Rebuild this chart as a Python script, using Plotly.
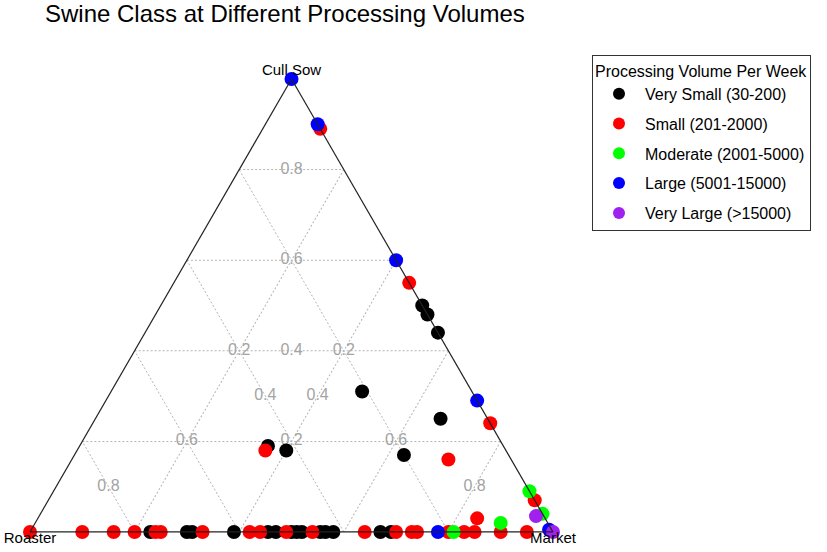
import plotly.graph_objects as go

# ---- data: (Cull Sow, Roaster, Market) shares per plant ----
series_names = [
    "Very Small (30-200)",
    "Small (201-2000)",
    "Moderate (2001-5000)",
    "Large (5001-15000)",
    "Very Large (>15000)",
]
series_colors = ["#000000", "#FF0000", "#00FF00", "#0000FF", "#A020F0"]

very_small_cull = [0.50, 0.48, 0.44, 0.31, 0.25, 0.17, 0.19, 0.18,
                   0, 0, 0, 0, 0, 0, 0, 0, 0, 0, 0, 0, 0, 0]
very_small_roaster = [0.00, 0.00, 0.00, 0.21, 0.09, 0.20, 0.45, 0.42,
                      0.77, 0.70, 0.69, 0.61, 0.545, 0.53, 0.50, 0.49, 0.48,
                      0.445, 0.435, 0.42, 0.33, 0.31]
very_small_market = [0.50, 0.52, 0.56, 0.48, 0.66, 0.63, 0.36, 0.40,
                     0.23, 0.30, 0.31, 0.39, 0.455, 0.47, 0.50, 0.51, 0.52,
                     0.555, 0.565, 0.58, 0.67, 0.69]

small_cull = [0.89, 0.55, 0.24, 0.07, 0.16, 0.18, 0.03,
              0, 0, 0, 0, 0, 0, 0, 0, 0, 0, 0, 0, 0, 0, 0, 0, 0, 0, 0, 0]
small_roaster = [0.00, 0.00, 0.00, 0.00, 0.12, 0.46, 0.13,
                 1.00, 0.90, 0.84, 0.80, 0.76, 0.75, 0.67, 0.58, 0.56, 0.51,
                 0.46, 0.36, 0.30, 0.27, 0.26, 0.20, 0.17, 0.15, 0.10, 0.05]
small_market = [0.11, 0.45, 0.76, 0.93, 0.72, 0.36, 0.84,
                0.00, 0.10, 0.16, 0.20, 0.24, 0.25, 0.33, 0.42, 0.44, 0.49,
                0.54, 0.64, 0.70, 0.73, 0.74, 0.80, 0.83, 0.85, 0.90, 0.95]

moderate_cull = [0.09, 0.04, 0.02, 0.00]
moderate_roaster = [0.00, 0.00, 0.09, 0.19]
moderate_market = [0.91, 0.96, 0.89, 0.81]

large_cull = [1.00, 0.90, 0.60, 0.29, 0.00, 0.005]
large_roaster = [0.00, 0.00, 0.00, 0.00, 0.22, 0.005]
large_market = [0.00, 0.10, 0.40, 0.71, 0.78, 0.99]

very_large_cull = [0.035, 0.00]
very_large_roaster = [0.015, 0.00]
very_large_market = [0.95, 1.00]

series_cull = [very_small_cull, small_cull, moderate_cull, large_cull, very_large_cull]
series_roaster = [very_small_roaster, small_roaster, moderate_roaster, large_roaster, very_large_roaster]
series_market = [very_small_market, small_market, moderate_market, large_market, very_large_market]

axis_names = ["Cull Sow", "Roaster", "Market"]
grid_ticks = [0.2, 0.4, 0.6, 0.8]
grid_tick_labels = ["0.2", "0.4", "0.6", "0.8"]

FONT = "Liberation Sans, Arial, sans-serif"

fig = go.Figure()

# grid labels placed at the middle of each grid line (inside the triangle)
lab_a, lab_b, lab_c, lab_t = [], [], [], []
for v, t in zip(grid_ticks, grid_tick_labels):
    r = (1 - v) / 2
    lab_a += [v, r, r]
    lab_b += [r, v, r]
    lab_c += [r, r, v]
    lab_t += [t, t, t]
fig.add_trace(go.Scatterternary(
    a=lab_a, b=lab_b, c=lab_c, text=lab_t, mode="text",
    textfont=dict(color="#a4a4a4", size=16, family=FONT),
    showlegend=False, hoverinfo="skip", cliponaxis=False,
))

for i, name in enumerate(series_names):
    fig.add_trace(go.Scatterternary(
        a=series_cull[i], b=series_roaster[i], c=series_market[i],
        mode="markers", name=name, legendgroup=name,
        marker=dict(color=series_colors[i], size=14, line=dict(width=0)),
        cliponaxis=False,
    ))

# vertex labels, centred on each corner
fig.add_trace(go.Scatterternary(
    a=[1, 0], b=[0, 0], c=[0, 1], text=[axis_names[0], ""], mode="text",
    textposition="top center", textfont=dict(size=15, color="black", family=FONT),
    showlegend=False, hoverinfo="skip", cliponaxis=False,
))
fig.add_trace(go.Scatterternary(
    a=[0, 0], b=[1, 0], c=[0, 1], text=[axis_names[1], axis_names[2]], mode="text",
    textposition="bottom center", textfont=dict(size=15, color="black", family=FONT),
    showlegend=False, hoverinfo="skip", cliponaxis=False,
))

axis_common = dict(
    min=0, tick0=0, dtick=0.2, showticklabels=False, ticks="",
    showgrid=True, gridcolor="#b4b4b4", griddash="2px,2px", gridwidth=1,
    linecolor="#222222", linewidth=1.2, title=dict(text=""),
)

fig.update_layout(
    width=827, height=552,
    margin=dict(l=0, r=0, t=0, b=0),
    paper_bgcolor="white",
    font=dict(family=FONT, color="black", size=16),
    title=dict(text="Swine Class at Different Processing Volumes",
               x=45 / 827, xanchor="left", xref="container",
               y=1 - 14 / 552, yanchor="middle", yref="container",
               font=dict(size=24, family=FONT, color="black")),
    ternary=dict(
        sum=1,
        domain=dict(x=[30 / 827, 553 / 827], y=[20 / 552, 473 / 552]),
        bgcolor="white",
        aaxis=axis_common, baxis=axis_common, caxis=axis_common,
    ),
    legend=dict(
        title=dict(text="Processing Volume Per Week", font=dict(size=16)),
        x=592 / 827, y=1 - 55 / 552, xanchor="left", yanchor="top",
        bordercolor="#333333", borderwidth=1, bgcolor="white",
        font=dict(size=16), itemsizing="constant", tracegroupgap=6,
        itemwidth=42,
    ),
    showlegend=True,
)

fig.write_html("out.html", config={"displayModeBar": False},
               post_script="document.body.style.margin='0px';")
